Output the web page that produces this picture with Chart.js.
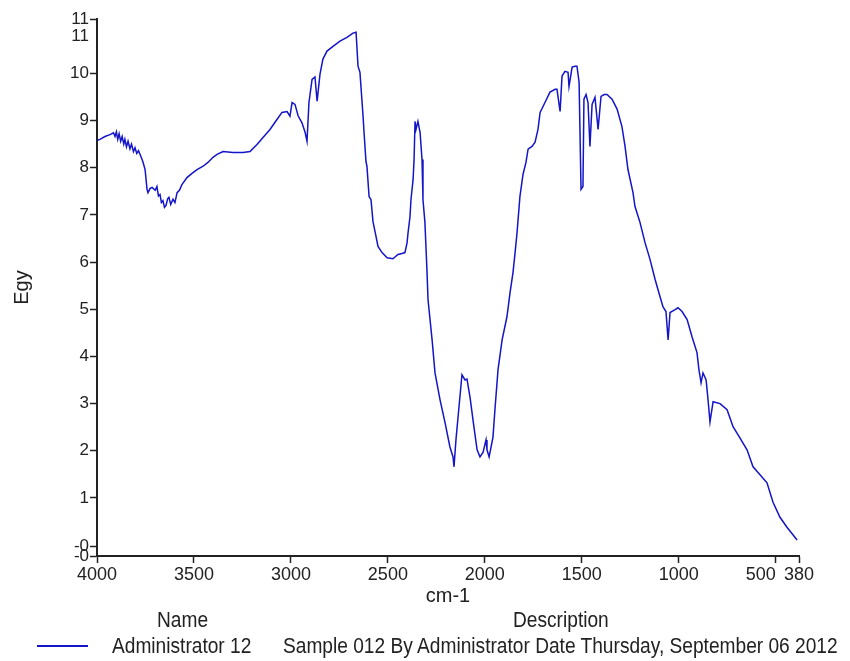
<!DOCTYPE html>
<html>
<head>
<meta charset="utf-8">
<script src="https://cdn.jsdelivr.net/npm/chart.js@4"></script>
<style>
	body { margin: 0; background: #fff; }
	#wrap { position: relative; width: 850px; height: 661px; font-family: "Liberation Sans", Arial, sans-serif; color: #222; }
	#chart { position: absolute; left: 0; top: 0; }
	.lbl { position: absolute; font-size: 22px; line-height: 24px; white-space: nowrap; transform: scaleX(0.87); transform-origin: 0 50%; }
	#legendLine { position: absolute; left: 37px; top: 645px; width: 51px; height: 2px; background: #1414c8; }
</style>
</head>
<body>
<div id="wrap">
	<canvas id="chart" width="850" height="661"></canvas>
	<div class="lbl" id="hdrName" style="left:157px; top:608px;"></div>
	<div class="lbl" id="hdrDesc" style="left:513px; top:608px;"></div>
	<div id="legendLine"></div>
	<div class="lbl" id="rowName" style="left:112px; top:634px;"></div>
	<div class="lbl" id="rowDesc" style="left:283px; top:634px;"></div>
</div>
<script>
// spectrum (cm-1 / Egy)
let wavenumbers = [
	3998, 3985, 3959, 3933, 3915, 3907, 3900, 3893, 3886, 3878, 3870, 3862, 3856, 3848, 3840, 3830,
	3822, 3812, 3804, 3795, 3786, 3778, 3770, 3763, 3752, 3742, 3737, 3726, 3716, 3700, 3691, 3683,
	3675, 3668, 3660, 3652, 3644, 3636, 3629, 3620, 3608, 3598, 3587, 3575, 3562, 3536, 3510, 3484,
	3453, 3428, 3402, 3381, 3350, 3299, 3247, 3211, 3175, 3144, 3108, 3072, 3046, 3020, 3005, 2994,
	2979, 2963, 2943, 2927, 2917, 2907, 2891, 2876, 2865, 2850, 2835, 2814, 2783, 2747, 2711, 2680,
	2664, 2654, 2644, 2628, 2623, 2613, 2608, 2597, 2587, 2577, 2561, 2551, 2530, 2504, 2474, 2448,
	2427, 2412, 2401, 2396, 2386, 2381, 2370, 2365, 2360, 2355, 2345, 2334, 2324, 2319, 2309, 2303,
	2298, 2293, 2272, 2257, 2231, 2205, 2180, 2164, 2159, 2149, 2138, 2118, 2102, 2092, 2076, 2061,
	2040, 2025, 2009, 1994, 1989, 1978, 1958, 1948, 1932, 1911, 1886, 1870, 1855, 1844, 1834, 1819,
	1803, 1788, 1777, 1757, 1741, 1726, 1715, 1690, 1664, 1638, 1628, 1612, 1602, 1587, 1571, 1566,
	1550, 1535, 1525, 1514, 1504, 1494, 1489, 1478, 1468, 1458, 1447, 1432, 1416, 1401, 1385, 1370,
	1344, 1318, 1293, 1277, 1262, 1236, 1226, 1200, 1174, 1148, 1122, 1097, 1081, 1066, 1055, 1045,
	1019, 1004, 983, 957, 932, 906, 896, 885, 875, 859, 849, 839, 823, 787, 751, 720,
	684, 648, 617, 581, 545, 514, 478, 442, 390
];
let egyValues = [
	8.58, 8.60, 8.66, 8.70, 8.74, 8.66, 8.76, 8.60, 8.72, 8.56, 8.66, 8.50, 8.60, 8.44, 8.56, 8.40,
	8.50, 8.34, 8.42, 8.30, 8.36, 8.28, 8.20, 8.12, 7.96, 7.54, 7.47, 7.56, 7.58, 7.52, 7.60, 7.40,
	7.43, 7.26, 7.30, 7.16, 7.20, 7.34, 7.37, 7.22, 7.33, 7.26, 7.47, 7.52, 7.64, 7.79, 7.88, 7.96,
	8.03, 8.11, 8.22, 8.28, 8.34, 8.32, 8.32, 8.34, 8.49, 8.64, 8.81, 9.02, 9.17, 9.19, 9.09, 9.38,
	9.34, 9.10, 8.95, 8.75, 8.56, 9.38, 9.87, 9.92, 9.41, 9.98, 10.30, 10.47, 10.57, 10.68, 10.76, 10.85,
	10.87, 10.15, 10.02, 9.09, 8.75, 8.13, 8.03, 7.39, 7.32, 6.86, 6.54, 6.33, 6.20, 6.09, 6.07, 6.16,
	6.18, 6.20, 6.41, 6.62, 6.96, 7.32, 7.75, 8.17, 8.98, 8.81, 8.98, 8.75, 8.17, 7.32, 6.84, 6.26,
	5.77, 5.20, 4.35, 3.65, 3.08, 2.59, 2.08, 1.87, 1.66, 2.23, 2.72, 3.61, 3.50, 3.52, 3.12, 2.65,
	2.02, 1.87, 1.97, 2.23, 2.02, 1.87, 2.29, 2.87, 3.72, 4.35, 4.84, 5.35, 5.77, 6.20, 6.62, 7.39,
	7.86, 8.11, 8.39, 8.45, 8.54, 8.81, 9.17, 9.38, 9.60, 9.66, 9.66, 9.19, 9.94, 10.04, 10.02, 9.72,
	10.13, 10.15, 10.15, 9.81, 7.54, 7.60, 9.45, 9.55, 9.38, 8.45, 9.34, 9.49, 8.81, 9.51, 9.55, 9.55,
	9.45, 9.24, 8.87, 8.45, 7.96, 7.47, 7.18, 6.84, 6.41, 6.05, 5.63, 5.27, 5.05, 4.95, 4.35, 4.93,
	4.99, 5.03, 4.95, 4.78, 4.42, 4.08, 3.72, 3.44, 3.65, 3.50, 3.08, 2.61, 3.04, 3.00, 2.87, 2.51,
	2.27, 2.02, 1.66, 1.49, 1.32, 0.91, 0.59, 0.38, 0.11
];

let xTickValues = [4000, 3500, 3000, 2500, 2000, 1500, 1000, 500, 380];
let xTickLabels = ["4000", "3500", "3000", "2500", "2000", "1500", "1000", "500      ", "380"];
let yTickValues = [-0.23, -0.02, 1, 2, 3, 4, 5, 6, 7, 8, 9, 10, 10.78, 11.15];
let yTickLabels = ["-0", "-0", "1", "2", "3", "4", "5", "6", "7", "8", "9", "10", "11", "11"];

let seriesName = "Administrator 12";
let seriesDesc = "Sample 012 By Administrator Date Thursday, September 06 2012";

document.getElementById("hdrName").textContent = "Name";
document.getElementById("hdrDesc").textContent = "Description";
document.getElementById("rowName").textContent = seriesName;
document.getElementById("rowDesc").textContent = seriesDesc;

let points = [];
wavenumbers.forEach(function (wn, i) {
	points.push({ x: wn, y: egyValues[i] });
});

const fontFamily = '"Liberation Sans", Arial, sans-serif';
const inkColor = '#222';

let ctx = document.getElementById("chart");
let myChart = new Chart(ctx, {
	type: 'line',
	data: {
		datasets: [{
			label: seriesName,
			data: points,
			borderColor: '#1414c8',
			borderWidth: 1.5,
			pointRadius: 0,
			tension: 0,
			fill: false
		}]
	},
	options: {
		responsive: false,
		animation: false,
		layout: { padding: { left: 0, top: 19, right: 51, bottom: 53 } },
		plugins: {
			legend: { display: false },
			tooltip: { enabled: false }
		},
		scales: {
			x: {
				type: 'linear',
				reverse: true,
				min: 380,
				max: 4000,
				afterBuildTicks: function (scale) {
					scale.ticks = xTickValues.map(v => ({ value: v }));
				},
				afterFit: function (scale) { scale.height = 52; },
				ticks: {
					autoSkip: false,
					maxRotation: 0,
					padding: 1,
					color: inkColor,
					font: { family: fontFamily, size: 18 },
					callback: function (value, index) { return xTickLabels[index]; }
				},
				grid: { drawOnChartArea: false, drawTicks: true, tickLength: 7, tickColor: inkColor, tickWidth: 1.5 },
				border: { display: true, color: inkColor, width: 2 },
				title: {
					display: true,
					text: 'cm-1',
					color: inkColor,
					font: { family: fontFamily, size: 20 },
					padding: { top: 0, bottom: 0 }
				}
			},
			y: {
				type: 'linear',
				min: -0.23,
				max: 11.15,
				afterBuildTicks: function (scale) {
					scale.ticks = yTickValues.map(v => ({ value: v }));
				},
				afterFit: function (scale) { scale.width = 97; },
				ticks: {
					autoSkip: false,
					padding: 1,
					color: inkColor,
					font: { family: fontFamily, size: 17 },
					callback: function (value, index) { return yTickLabels[index]; }
				},
				grid: {
					drawOnChartArea: false,
					drawTicks: true,
					tickLength: 7,
					tickWidth: 1.5,
					tickColor: function (c) { return c.index === 12 ? 'rgba(0,0,0,0)' : inkColor; }
				},
				border: { display: true, color: inkColor, width: 2 },
				title: {
					display: true,
					text: 'Egy',
					color: inkColor,
					font: { family: fontFamily, size: 20 },
					padding: { top: 10, bottom: 0 }
				}
			}
		}
	}
});
</script>
</body>
</html>
